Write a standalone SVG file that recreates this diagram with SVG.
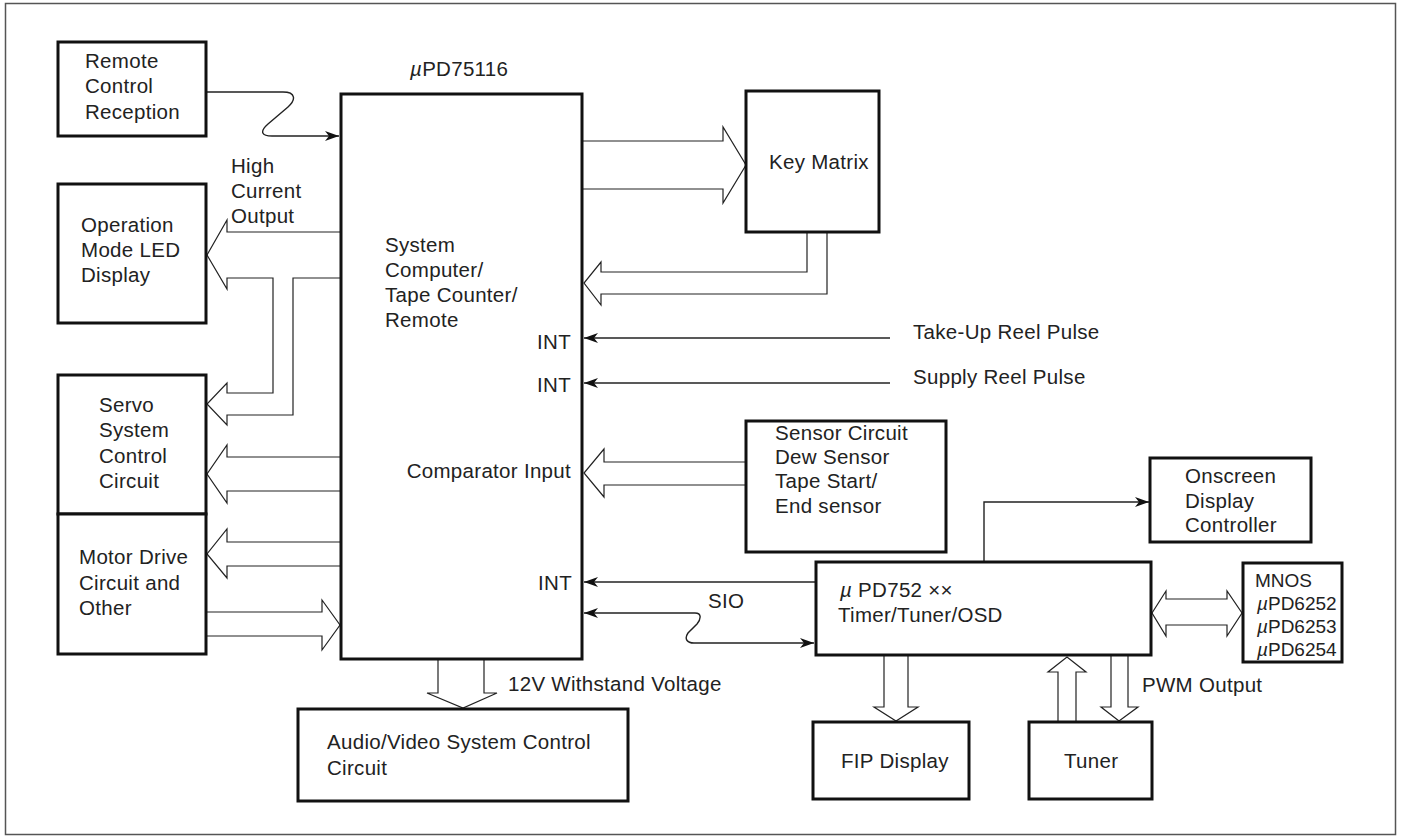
<svg xmlns="http://www.w3.org/2000/svg" width="1401" height="838" viewBox="0 0 1401 838">
<style>
.box{fill:#fff;stroke:#111;stroke-width:3}
.bus{fill:#fff;stroke:#222;stroke-width:1.2;stroke-linejoin:miter}
.ln{fill:none;stroke:#222;stroke-width:1.4}
text{font-family:"Liberation Sans",Arial,sans-serif;font-size:20.5px;fill:#222;letter-spacing:0.3px}
.r{text-anchor:end}
.s{font-size:19px;letter-spacing:0}
.i{font-style:italic}
</style>
<defs>
<marker id="ah" viewBox="0 0 14 10" refX="14" refY="5" markerWidth="14" markerHeight="10" markerUnits="userSpaceOnUse" orient="auto-start-reverse">
<path d="M0,0 L14,5 L0,10 L4,5 Z" fill="#111"/>
</marker>
</defs>
<rect x="5.5" y="3.5" width="1390" height="831" fill="#fff" stroke="#555" stroke-width="1.5"/>

<g id="connectors">
<path class="bus" d="M340,232 L227,232 L227,220 L207,255 L227,289 L227,278 L273,278 L273,393 L227,393 L227,383 L207,404 L227,425 L227,415 L293,415 L293,278 L340,278"/>
<path class="bus" d="M340,457 L227,457 L227,445 L207,474 L227,503 L227,491 L340,491"/>
<path class="bus" d="M340,542 L227,542 L227,529 L207,554 L227,578 L227,566 L340,566"/>
<path class="bus" d="M206,612 L322,612 L322,600 L340,625 L322,650 L322,636 L206,636"/>
<path class="bus" d="M583,141 L723,141 L723,127 L746,165 L723,203 L723,189 L583,189"/>
<path class="bus" d="M807,232 L807,272 L601,272 L601,262 L584,283 L601,305 L601,294 L827,294 L827,232"/>
<path class="bus" d="M746,462 L604,462 L604,449 L584,473 L604,497 L604,485 L746,485"/>
<path class="bus" d="M438,660 L438,693 L427,693 L463,708 L497,693 L484,693 L484,660"/>
<path class="bus" d="M884,655 L884,707 L874,707 L896,721 L918,707 L908,707 L908,655"/>
<path class="bus" d="M1058,722 L1058,672 L1048,672 L1067,657 L1086,672 L1076,672 L1076,722"/>
<path class="bus" d="M1111,655 L1111,707 L1101,707 L1119,721 L1138,707 L1128,707 L1128,655"/>
<path class="bus" d="M1152,613 L1166,591 L1166,599 L1227,599 L1227,591 L1242,613 L1227,636 L1227,625 L1166,625 L1166,636 Z"/>
<path class="ln" marker-end="url(#ah)" d="M206,92 L283,92 C296,92 296,100 288,107 L268,124 C259,132 262,136 272,136 L339,136"/>
<path class="ln" marker-end="url(#ah)" d="M890,338 L584,338"/>
<path class="ln" marker-end="url(#ah)" d="M890,383 L584,383"/>
<path class="ln" marker-end="url(#ah)" d="M815,582 L584,582"/>
<path class="ln" marker-start="url(#ah)" marker-end="url(#ah)" d="M584,613 L695,613 C702,613 701,619 697,624 L688,633 C684,639 687,643 694,643 L814,643"/>
<path class="ln" marker-end="url(#ah)" d="M984,562 L984,502 L1149,502"/>
</g>

<g id="remote">
<rect class="box" x="58" y="42" width="148" height="94"/>
<text x="85" y="68">Remote</text>
<text x="85" y="93">Control</text>
<text x="85" y="119">Reception</text>
</g>
<g id="ledlabel">
<text x="231" y="173">High</text>
<text x="231" y="198">Current</text>
<text x="231" y="223">Output</text>
</g>
<g id="opmode">
<rect class="box" x="58" y="184" width="148" height="139"/>
<text x="81" y="232">Operation</text>
<text x="81" y="257">Mode LED</text>
<text x="81" y="282">Display</text>
</g>
<g id="servo">
<rect class="box" x="58" y="375" width="148" height="139"/>
<text x="99" y="412">Servo</text>
<text x="99" y="437">System</text>
<text x="99" y="463">Control</text>
<text x="99" y="488">Circuit</text>
</g>
<g id="motor">
<rect class="box" x="58" y="514" width="148" height="140"/>
<text x="79" y="564">Motor Drive</text>
<text x="79" y="590">Circuit and</text>
<text x="79" y="615">Other</text>
</g>
<g id="mcu">
<text x="410" y="76"><tspan class="i">µ</tspan>PD75116</text>
<rect class="box" x="341" y="94" width="241" height="565"/>
<text x="385" y="252">System</text>
<text x="385" y="277">Computer/</text>
<text x="385" y="302">Tape Counter/</text>
<text x="385" y="327">Remote</text>
<text class="r" x="571" y="349">INT</text>
<text class="r" x="571" y="392">INT</text>
<text class="r" x="571" y="478">Comparator Input</text>
<text class="r" x="572" y="590">INT</text>
</g>
<g id="keymatrix">
<rect class="box" x="746" y="91" width="133" height="141"/>
<text x="769" y="169">Key Matrix</text>
</g>
<g id="pulses">
<text x="913" y="339">Take-Up Reel Pulse</text>
<text x="913" y="384">Supply Reel Pulse</text>
</g>
<g id="sensor">
<rect class="box" x="746" y="421" width="200" height="131"/>
<text x="775" y="440">Sensor Circuit</text>
<text x="775" y="464">Dew Sensor</text>
<text x="775" y="488">Tape Start/</text>
<text x="775" y="513">End sensor</text>
</g>
<g id="onscreen">
<rect class="box" x="1150" y="458" width="161" height="84"/>
<text x="1185" y="483">Onscreen</text>
<text x="1185" y="508">Display</text>
<text x="1185" y="532">Controller</text>
</g>
<g id="upd752">
<rect class="box" x="816" y="562" width="335" height="93"/>
<text x="840" y="597"><tspan class="i">µ</tspan> PD752 ××</text>
<text x="838" y="622">Timer/Tuner/OSD</text>
<text x="708" y="608">SIO</text>
</g>
<g id="mnos">
<rect class="box" x="1243" y="563" width="99" height="99"/>
<text class="s" x="1255" y="587">MNOS</text>
<text class="s" x="1257" y="610"><tspan class="i">µ</tspan>PD6252</text>
<text class="s" x="1257" y="633"><tspan class="i">µ</tspan>PD6253</text>
<text class="s" x="1257" y="656"><tspan class="i">µ</tspan>PD6254</text>
</g>
<g id="av">
<text x="508" y="691">12V Withstand Voltage</text>
<rect class="box" x="298" y="709" width="330" height="92"/>
<text x="327" y="749">Audio/Video System Control</text>
<text x="327" y="775">Circuit</text>
</g>
<g id="fip">
<rect class="box" x="813" y="722" width="156" height="77"/>
<text x="841" y="768">FIP Display</text>
</g>
<g id="tuner">
<rect class="box" x="1029" y="722" width="123" height="77"/>
<text x="1064" y="768">Tuner</text>
<text x="1142" y="692">PWM Output</text>
</g>
</svg>
